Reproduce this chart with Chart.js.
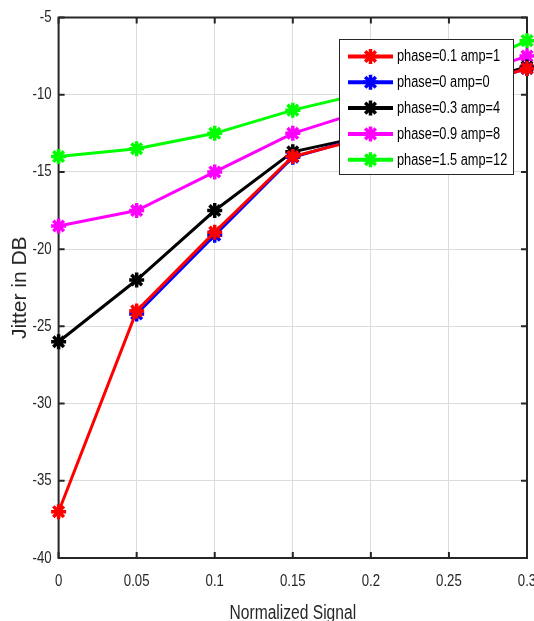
<!DOCTYPE html>
<html>
<head>
<meta charset="utf-8">
<script src="https://cdn.jsdelivr.net/npm/chart.js@4.4.1/dist/chart.umd.min.js"></script>
<style>
html,body{margin:0;padding:0;background:#fff;}
canvas{display:block;}
</style>
</head>
<body>
<canvas id="c" width="534" height="621"></canvas>
<script>
// ---- data ----
const xValues = [0, 0.05, 0.1, 0.15, 0.2, 0.25, 0.3];
const xTickLabels = ['0', '0.05', '0.1', '0.15', '0.2', '0.25', '0.3'];
const yTickLabels = ['-40', '-35', '-30', '-25', '-20', '-15', '-10', '-5'];
const seriesNames = ['phase=0.1 amp=1', 'phase=0 amp=0', 'phase=0.3 amp=4', 'phase=0.9 amp=8', 'phase=1.5 amp=12'];
const redValues     = [-37, -24, -18.9, -14, -12.7, -9.8, -8.3];
const blueValues    = [null, -24.2, -19.1, -14.05, -12.6, -9.8, -8.3];
const blackValues   = [-26, -22, -17.5, -13.7, -12.6, -9.6, -8.2];
const magentaValues = [-18.5, -17.5, -15, -12.5, -10.9, -9.2, -7.5];
const greenValues   = [-14, -13.5, -12.5, -11, -9.8, -8.9, -6.5];
const seriesColors = ['#ff0000', '#0000ff', '#000000', '#ff00ff', '#00ff00'];

const allSeries = [redValues, blueValues, blackValues, magentaValues, greenValues];

const FONT = "'Liberation Sans', Arial, sans-serif";
const AXIS_COLOR = '#262626';
const SQUEEZE = 0.8; // horizontal condensing of unrotated text, like the reference

const canvas = document.getElementById('c');
const ctx0 = canvas.getContext('2d');
const origFillText = ctx0.fillText.bind(ctx0);
ctx0.fillText = function (t, x, y, mw) {
  const m = this.getTransform();
  if (Math.abs(m.b) > 1e-6 || Math.abs(m.c) > 1e-6) {
    return mw === undefined ? origFillText(t, x, y) : origFillText(t, x, y, mw);
  }
  this.save();
  this.translate(x, y);
  this.scale(SQUEEZE, 1);
  origFillText(t, 0, 0);
  this.restore();
};

const datasets = allSeries.map((vals, i) => ({
  label: seriesNames[i],
  data: xValues.map((x, j) => ({x: x, y: vals[j]})),
  borderColor: seriesColors[i],
  backgroundColor: seriesColors[i],
  pointBorderColor: seriesColors[i],
  pointBackgroundColor: seriesColors[i],
  borderWidth: 3,
  pointStyle: 'star',
  pointRadius: 7.5,
  pointBorderWidth: 3.5,
  tension: 0,
  spanGaps: false,
  clip: false
}));

// axes box + inward ticks (drawn under the data)
const boxPlugin = {
  id: 'boxPlugin',
  beforeDatasetsDraw(chart) {
    const {ctx, chartArea: a, scales} = chart;
    ctx.save();
    ctx.strokeStyle = AXIS_COLOR;
    ctx.lineWidth = 2;
    ctx.strokeRect(a.left, a.top, a.right - a.left, a.bottom - a.top);
    const tl = 6;
    ctx.beginPath();
    xValues.forEach(v => {
      const px = scales.x.getPixelForValue(v);
      ctx.moveTo(px, a.bottom); ctx.lineTo(px, a.bottom - tl);
      ctx.moveTo(px, a.top); ctx.lineTo(px, a.top + tl);
    });
    yTickLabels.forEach(t => {
      const py = scales.y.getPixelForValue(parseFloat(t));
      ctx.moveTo(a.left, py); ctx.lineTo(a.left + tl, py);
      ctx.moveTo(a.right, py); ctx.lineTo(a.right - tl, py);
    });
    ctx.stroke();
    ctx.restore();
  }
};

// MATLAB-like legend inside the axes
const legendPlugin = {
  id: 'matLegend',
  afterDraw(chart) {
    const ctx = chart.ctx;
    const bx = 339.5, by = 39.5, bw = 174, bh = 135;
    ctx.save();
    ctx.fillStyle = '#ffffff';
    ctx.fillRect(bx, by, bw, bh);
    ctx.strokeStyle = AXIS_COLOR;
    ctx.lineWidth = 1;
    ctx.strokeRect(bx, by, bw, bh);
    chart.data.datasets.forEach((ds, i) => {
      const cy = 56.5 + 25.8 * i;
      ctx.strokeStyle = ds.borderColor;
      ctx.fillStyle = ds.borderColor;
      ctx.lineWidth = 4;
      ctx.beginPath();
      ctx.moveTo(348, cy); ctx.lineTo(393, cy);
      ctx.stroke();
      ctx.lineWidth = 3.5;
      Chart.helpers.drawPoint(ctx, {pointStyle: 'star', radius: 7.5, borderWidth: 3.5}, 370.5, cy);
      ctx.fillStyle = '#000';
      ctx.font = "16px " + FONT;
      ctx.textBaseline = 'middle';
      ctx.textAlign = 'left';
      ctx.fillText(ds.label, 397, cy + 0.5);
    });
    ctx.restore();
  }
};

new Chart(canvas, {
  type: 'line',
  data: {datasets: datasets},
  options: {
    responsive: false,
    animation: false,
    devicePixelRatio: 1,
    layout: {autoPadding: false, padding: {left: 0, right: 7, top: 17.5, bottom: 0}},
    plugins: {legend: {display: false}, tooltip: {enabled: false}},
    scales: {
      x: {
        type: 'linear',
        min: 0, max: 0.3,
        afterFit(s) { s.height = 63; s.paddingLeft = 0; s.paddingRight = 0; },
        afterBuildTicks(s) { s.ticks = xValues.map(v => ({value: v})); },
        ticks: {
          callback: (v, i) => xTickLabels[i],
          color: AXIS_COLOR,
          font: {family: FONT, size: 16.5},
          padding: 14,
          maxRotation: 0,
          autoSkip: false
        },
        grid: {color: '#dcdcdc', lineWidth: 1, drawTicks: false},
        border: {display: false},
        title: {
          display: true,
          text: 'Normalized Signal',
          color: AXIS_COLOR,
          font: {family: FONT, size: 19.5, lineHeight: 1},
          padding: {top: 0, bottom: -2}
        }
      },
      y: {
        type: 'linear',
        min: -40, max: -5,
        afterFit(s) { s.width = 58.6; s.paddingTop = 0; s.paddingBottom = 0; },
        afterBuildTicks(s) { s.ticks = yTickLabels.map(t => ({value: parseFloat(t)})); },
        ticks: {
          callback: (v, i) => yTickLabels[i],
          color: AXIS_COLOR,
          font: {family: FONT, size: 16.5},
          padding: 7,
          autoSkip: false
        },
        grid: {color: '#dcdcdc', lineWidth: 1, drawTicks: false},
        border: {display: false},
        title: {
          display: true,
          text: 'Jitter in DB',
          color: AXIS_COLOR,
          font: {family: FONT, size: 21, lineHeight: 1.2},
          padding: {top: 8, bottom: 0}
        }
      }
    }
  },
  plugins: [boxPlugin, legendPlugin]
});
</script>
</body>
</html>
